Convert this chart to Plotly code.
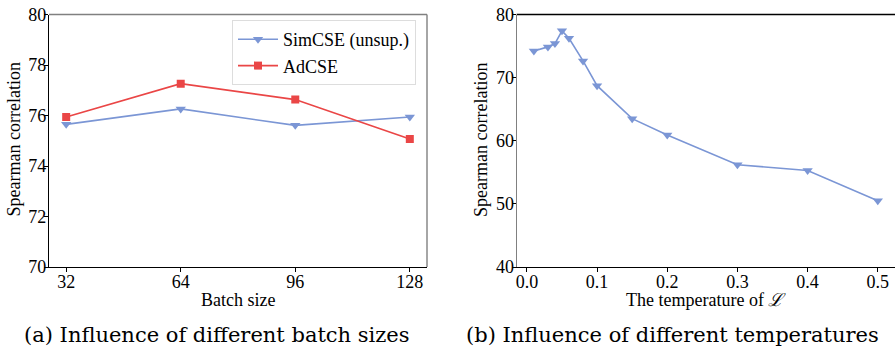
import plotly.graph_objects as go

# Panel (a): batch size
batch_sizes = [32, 64, 96, 128]
simcse_batch = [75.65, 76.26, 75.61, 75.94]
adcse_batch = [75.94, 77.26, 76.63, 75.07]

# Panel (b): temperature
temperatures = [0.01, 0.03, 0.04, 0.05, 0.06, 0.08, 0.1, 0.15, 0.2, 0.3, 0.4, 0.5]
simcse_temp = [74.23, 74.87, 75.4, 77.41, 76.24, 72.65, 68.73, 63.5, 60.9, 56.2, 55.3, 50.5]

a_yticks = [70, 72, 74, 76, 78, 80]
b_yticks = [40, 50, 60, 70, 80]
b_xticks = [0.0, 0.1, 0.2, 0.3, 0.4, 0.5]

BLUE = "#7b96d5"
RED = "#ea4646"
FONT = "Liberation Serif"
CAPFONT = "DejaVu Serif"

fig = go.Figure()
fig.add_trace(go.Scatter(x=batch_sizes, y=simcse_batch, mode="lines+markers", name="SimCSE (unsup.)",
                         line=dict(color=BLUE, width=1.6),
                         marker=dict(symbol="triangle-down", size=9, color=BLUE),
                         xaxis="x", yaxis="y"))
fig.add_trace(go.Scatter(x=batch_sizes, y=adcse_batch, mode="lines+markers", name="AdCSE",
                         line=dict(color=RED, width=1.6),
                         marker=dict(symbol="square", size=8, color=RED),
                         xaxis="x", yaxis="y"))
fig.add_trace(go.Scatter(x=temperatures, y=simcse_temp, mode="lines+markers", showlegend=False,
                         line=dict(color=BLUE, width=1.6),
                         marker=dict(symbol="triangle-down", size=9, color=BLUE),
                         xaxis="x2", yaxis="y2"))

ydom = [1 - 267 / 348, 1 - 14.5 / 348]
tickfont = dict(family=FONT, size=18, color="black")
common = dict(showgrid=False, zeroline=False, ticks="outside", ticklen=4, tickcolor="black",
              tickfont=tickfont, showline=True, linewidth=1.4, automargin=False)

fig.update_layout(
    width=895, height=348, margin=dict(l=0, r=0, t=0, b=0, autoexpand=False),
    paper_bgcolor="white", plot_bgcolor="white",
    xaxis=dict(domain=[49 / 895, 427 / 895], range=[27.2, 132.8], tickvals=batch_sizes,
               linecolor="black", anchor="y", ticklabelstandoff=-6, **common),
    yaxis=dict(domain=ydom, range=[70, 80], tickvals=a_yticks, linecolor="black", anchor="x",
               ticklabelstandoff=-6, **common),
    xaxis2=dict(domain=[516.7 / 895, 1.0], range=[-0.0145, 0.5245], tickvals=b_xticks,
                ticktext=["0.0", "0.1", "0.2", "0.3", "0.4", "0.5"],
                linecolor="black", anchor="y2", ticklabelstandoff=-6, **common),
    yaxis2=dict(domain=ydom, range=[40, 80], tickvals=b_yticks, linecolor="#808080", anchor="x2",
                ticklabelstandoff=-6, **common),
    legend=dict(x=232 / 895, y=1 - 20 / 348, xanchor="left", yanchor="top",
                bgcolor="white", bordercolor="#dddddd", borderwidth=1,
                font=dict(family=FONT, size=18, color="black"), itemwidth=40,
                tracegroupgap=0),
    showlegend=True,
)

# Extra spines
fig.add_shape(type="line", xref="x domain", yref="y domain", x0=0, x1=1, y0=1, y1=1,
              line=dict(color="#808080", width=1.4))
fig.add_shape(type="line", xref="x domain", yref="y domain", x0=1, x1=1, y0=0, y1=1,
              line=dict(color="#808080", width=1.4))
fig.add_shape(type="line", xref="x2 domain", yref="y2 domain", x0=0, x1=1, y0=1, y1=1,
              line=dict(color="black", width=1.4))

def note(text, x, y, size=18, family=FONT, angle=0):
    fig.add_annotation(text=text, x=x / 895, y=1 - y / 348, xref="paper", yref="paper",
                       xanchor="center", yanchor="middle", textangle=angle, showarrow=False,
                       font=dict(family=family, size=size, color="black"))

# Axis titles
note("Spearman correlation", 13.5, 140, angle=-90)
note("Spearman correlation", 481, 140, angle=-90)
note("Batch size", 238, 300)
note("The temperature of <i>ℒ</i>", 706, 300)

# Captions
note("(a) Influence of different batch sizes", 217, 335, size=21, family=CAPFONT)
note("(b) Influence of different temperatures", 672, 335, size=21, family=CAPFONT)

fig.write_html("out.html", config={"displayModeBar": False},
               post_script="document.body.style.margin='0';document.body.style.overflow='hidden';")
